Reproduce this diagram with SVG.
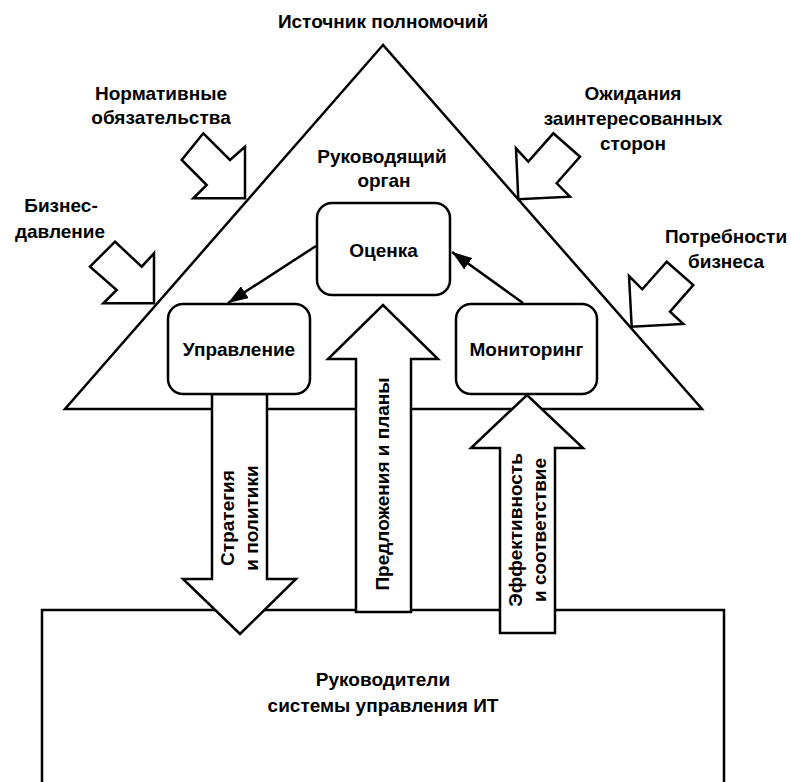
<svg xmlns="http://www.w3.org/2000/svg" width="791" height="782" viewBox="0 0 791 782">
<style>
  .ln { fill: #fff; stroke: #000; stroke-width: 2.5; stroke-linejoin: miter; }
  .box { fill: #fff; stroke: #000; stroke-width: 2.5; }
  .t { font-family: "Liberation Sans", Arial, sans-serif; font-size: 19px; font-weight: bold; fill: #000; text-anchor: middle; }
  .c { stroke: #000; stroke-width: 2.5; fill: none; }
</style>
<defs>
  <marker id="ah" viewBox="0 0 20 14" refX="20" refY="7" markerWidth="20" markerHeight="14" markerUnits="userSpaceOnUse" orient="auto">
    <path d="M0,0 L20,7 L0,14 Z" fill="#000"/>
  </marker>
</defs>
<rect width="791" height="782" fill="#fff"/>

<g id="it-management">
  <rect class="box" x="42" y="610" width="682" height="200"/>
  <text class="t" x="383" y="686">Руководители</text>
  <text class="t" x="383" y="712">системы управления ИТ</text>
</g>

<g id="governing-body">
  <polygon class="ln" points="383,45 65,409 702,409"/>
  <text class="t" x="382" y="163">Руководящий</text>
  <text class="t" x="384" y="187">орган</text>
</g>

<g id="source">
  <text class="t" x="383" y="28">Источник полномочий</text>
</g>

<g id="normative">
  <polygon class="ln" points="203.3,133.3 230,160 245,146.7 245,198.3 193.3,198.3 206.7,185 181.7,160"/>
  <text class="t" x="161" y="100">Нормативные</text>
  <text class="t" x="161" y="124">обязательства</text>
</g>

<g id="business-pressure">
  <polygon class="ln" points="115,241.7 141.7,266.7 154,253.3 154,303.3 103.3,303.3 116.7,290 90,266.7"/>
  <text class="t" x="61" y="212">Бизнес-</text>
  <text class="t" x="60" y="238">давление</text>
</g>

<g id="stakeholders">
  <polygon class="ln" points="553.3,133.3 580,156.7 556.7,183.3 570,196.7 518.3,199.3 516,148.3 528.3,161.7"/>
  <text class="t" x="633" y="100">Ожидания</text>
  <text class="t" x="633" y="125">заинтересованных</text>
  <text class="t" x="633" y="150">сторон</text>
</g>

<g id="business-needs">
  <polygon class="ln" points="666.7,261.7 693.3,285 670,311.7 683.3,324 631.7,326.7 629,276 642.3,289.3"/>
  <text class="t" x="726" y="243">Потребности</text>
  <text class="t" x="726" y="268">бизнеса</text>
</g>

<g id="strategy-arrow">
  <polygon class="ln" points="212,394 267,394 267,579 296,579 240,634 183,579 212,579"/>
  <text class="t" transform="translate(234,518) rotate(-90)">Стратегия</text>
  <text class="t" transform="translate(258,518) rotate(-90)">и политики</text>
</g>

<g id="proposals-arrow">
  <polygon class="ln" points="356,612 356,359 328,359 383,305 438,359 411,359 411,612"/>
  <text class="t" transform="translate(389,484) rotate(-90)">Предложения и планы</text>
</g>

<g id="performance-arrow">
  <polygon class="ln" points="500,633 500,448 471,448 527,395 583,448 555,448 555,633"/>
  <text class="t" transform="translate(522,530) rotate(-90)">Эффективность</text>
  <text class="t" transform="translate(546,530) rotate(-90)">и соответствие</text>
</g>

<g id="evaluate">
  <rect class="box" x="317" y="203" width="133" height="92" rx="15"/>
  <text class="t" x="383.5" y="257">Оценка</text>
</g>

<g id="direct">
  <rect class="box" x="168" y="304" width="142" height="90" rx="15"/>
  <text class="t" x="239" y="356">Управление</text>
</g>

<g id="monitor">
  <rect class="box" x="456" y="304" width="141" height="90" rx="15"/>
  <text class="t" x="526.5" y="356">Мониторинг</text>
</g>

<g id="connectors">
  <line class="c" x1="316" y1="246" x2="228" y2="303" marker-end="url(#ah)"/>
  <line class="c" x1="523" y1="303" x2="452" y2="252" marker-end="url(#ah)"/>
</g>
</svg>
